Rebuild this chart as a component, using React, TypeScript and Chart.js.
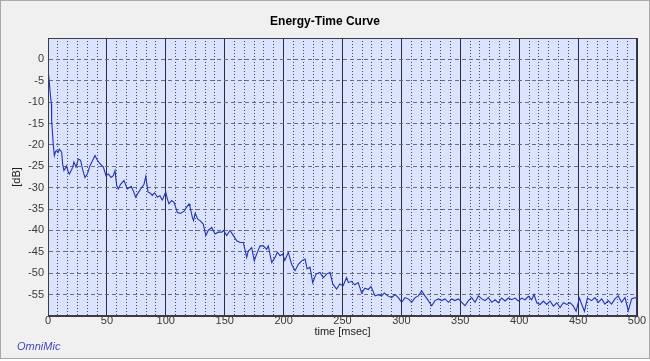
import React, { useEffect, useRef } from "react";
import { Chart, registerables } from "chart.js";

Chart.register(...registerables);

const TITLE = "Energy-Time Curve";
const X_TITLE = "time [msec]";
const Y_TITLE = "[dB]";
const BRAND = "OmniMic";

const X_MIN = 0;
const X_MAX = 500;
const X_MAJOR_STEP = 50;
const X_MINOR_DIVISIONS = 60;
const Y_MIN = -60;
const Y_MAX = 5;
const Y_STEP = 5;
const Y_LABEL_MIN = -55;
const Y_LABEL_MAX = 0;

const TIME_MS = [
  0, 0.3, 1, 2.2, 2.9, 3.1, 4.5, 5.4, 6.5, 7.4, 8.5, 9.6, 11.6, 12.4, 13.5, 14.4, 15.8, 17, 18.1, 20,
  21, 22, 23.8, 25.7, 27.7, 29.4, 31.4, 33.4, 35.7, 38, 39.9, 41.9, 44.1, 47, 49.2, 51.2, 53.5, 55.4, 56.9, 58.3,
  59.7, 61.6, 64.5, 67.3, 70.7, 72.5, 74.4, 76.5, 78.7, 81.5, 83, 84.9, 86.8, 88.6, 90.5, 92.8, 95, 97, 99.9, 101.5,
  102.7, 105, 107, 109.8, 112.6, 115.5, 117.5, 119.7, 120.5, 122.5, 123.5, 125, 127, 129, 131.8, 134, 136, 139, 141.8, 144.6,
  147.5, 149, 151.7, 154.5, 157.4, 160.2, 163, 165.8, 168.7, 170, 172.9, 175.1, 177, 180, 182.8, 185.6, 187, 189.9, 192.7, 194.7,
  197, 199.2, 201, 204, 206.8, 209.7, 212.5, 215.3, 218.2, 220, 222.4, 224.7, 227.5, 230.9, 233.7, 236.5, 239.4, 241.7, 245, 247.7,
  250.5, 253.5, 255, 257.6, 260.4, 263.3, 266.3, 269, 271.9, 274.2, 277.6, 280.4, 283.2, 285.5, 288.4, 291.8, 294.6, 297.4, 300.2, 303,
  305.9, 308.7, 311.6, 314.4, 317.2, 320, 322.9, 325.7, 328.5, 331.4, 334.2, 337, 339.9, 342.7, 345.5, 348.4, 351.2, 354, 356.9, 359.7,
  362.5, 365.4, 368.2, 371, 373.8, 376.7, 379.5, 382.3, 385.1, 388, 390.8, 393.6, 396.5, 399.3, 402.1, 405, 407.8, 410.6, 412.6, 414.9,
  417.7, 420.5, 423.4, 426.2, 429, 431.9, 434.7, 437.5, 440.4, 443.2, 446, 448.3, 451.1, 453.1, 455.4, 457.9, 461.5, 464.3, 467.1, 470,
  472.8, 475.6, 478.4, 481.3, 484.1, 486.9, 489.8, 492.6, 495.4, 498.3, 500,
];

const LEVEL_DB = [
  -1, -3, -5, -8.8, -10.5, -14.3, -20, -22.5, -21.5, -21.3, -21.8, -21, -21.7, -24.4, -26, -25.6, -24.9, -26.2, -26.8, -25.8,
  -25.2, -24, -25.2, -23.3, -23.6, -25.8, -27.6, -26.8, -24.8, -23.6, -22.5, -23.6, -24.4, -25.2, -27.2, -26.8, -27.6, -27.2, -26, -29.5,
  -30.3, -29.2, -28.3, -30.3, -29.7, -30.8, -32.2, -31.2, -30.3, -29.2, -27.4, -31, -31.3, -31.8, -31.2, -32.2, -31.9, -32.9, -31, -32.8,
  -33.8, -33, -33.4, -35.8, -36, -35.5, -34.6, -33.8, -34.4, -36.9, -37.7, -36, -37.3, -37.7, -38.5, -41.2, -40, -39.3, -40.8, -40.4,
  -40.4, -40, -41.2, -40, -41.2, -42.4, -42.8, -42.8, -46.3, -44.8, -44, -47.1, -45.6, -43.6, -43.6, -44.4, -43.6, -47.5, -46.3, -45.1,
  -45.9, -45.5, -47, -45.1, -47.9, -49.4, -47.9, -47.1, -46.7, -49, -48.6, -52.2, -50.2, -49.8, -51, -50.2, -49.8, -52.5, -53.7, -52.5,
  -52.9, -51, -52.2, -51.9, -52.7, -52.2, -54.6, -53.5, -53.8, -53.1, -55.3, -55, -55.3, -54.6, -55.3, -55.7, -55, -55.7, -56.8, -55.7,
  -56, -56.8, -55.7, -55.3, -54.1, -55.3, -56.4, -57.6, -56.4, -56, -56.4, -56, -56.8, -56, -56.4, -56, -56.8, -57.6, -56.4, -55.7,
  -56.8, -55.3, -56, -56.4, -55.7, -56.8, -56.2, -56.9, -55.8, -56.5, -55.8, -56.2, -55.8, -56.5, -55.8, -56.2, -55.4, -56.2, -55, -56.9,
  -57.3, -56.5, -57.3, -56.5, -57.7, -56.9, -58, -56.9, -57.3, -56.9, -57.7, -58.9, -55.8, -57.3, -58.9, -55.8, -56.4, -55.7, -56.8, -56,
  -57.2, -56.4, -57.2, -56, -55.3, -56.8, -55.7, -58.8, -56, -55.7, -56,
];

const FONT = "'Liberation Sans', Arial, sans-serif";

const plotFrame = {
  id: "plotFrame",
  beforeDraw(chart: any) {
    const { ctx, chartArea } = chart;
    const { left, top, right, bottom } = chartArea;
    ctx.save();
    ctx.fillStyle = "#dce4fd";
    ctx.fillRect(left, top, right - left, bottom - top);
    ctx.restore();
  },
  afterDraw(chart: any) {
    const { ctx, chartArea } = chart;
    const { left, top, right, bottom } = chartArea;
    ctx.save();
    ctx.strokeStyle = "#3c3c48";
    ctx.lineWidth = 1;
    const l = Math.round(left) + 0.5;
    const t = Math.round(top) + 0.5;
    const r = Math.round(right) - 0.5;
    const b = Math.round(bottom) - 0.5;
    ctx.strokeRect(l, t, r - l, b - t);
    ctx.restore();
  },
};

export default function App() {
  const canvasRef = useRef<HTMLCanvasElement | null>(null);

  useEffect(() => {
    if (!canvasRef.current) return;
    const points = TIME_MS.map((t, i) => ({ x: t, y: LEVEL_DB[i] }));
    const chart = new Chart(canvasRef.current, {
      type: "line",
      data: {
        datasets: [
          {
            data: points,
            xAxisID: "x",
            yAxisID: "y",
            borderColor: "#2233b4",
            borderWidth: 1.1,
            pointRadius: 0,
            tension: 0,
            fill: false,
          },
        ],
      },
      plugins: [plotFrame],
      options: {
        animation: false,
        responsive: false,
        devicePixelRatio: 1,
        layout: { padding: { left: 0, right: 0, top: 0, bottom: 0 } },
        plugins: {
          legend: { display: false },
          tooltip: { enabled: false },
          title: {
            display: true,
            text: TITLE,
            color: "#000000",
            font: { family: FONT, size: 12, weight: "bold" },
            padding: { top: 14, bottom: 9.6 },
          },
        },
        scales: {
          xMinor: {
            type: "linear",
            position: "bottom",
            min: X_MIN,
            max: X_MAX,
            afterBuildTicks: (scale: any) => {
              const ticks = [];
              for (let i = 0; i <= X_MINOR_DIVISIONS; i++) {
                ticks.push({ value: X_MIN + ((X_MAX - X_MIN) * i) / X_MINOR_DIVISIONS });
              }
              scale.ticks = ticks;
            },
            afterFit: (scale: any) => {
              scale.height = 0;
            },
            ticks: { display: false },
            grid: { color: "rgba(40,40,90,0.85)", lineWidth: 1, drawTicks: false, z: -1 },
            border: { display: false, dash: [1, 2] },
          },
          x: {
            type: "linear",
            position: "bottom",
            min: X_MIN,
            max: X_MAX,
            ticks: {
              stepSize: X_MAJOR_STEP,
              color: "#3a3a3a",
              font: { family: FONT, size: 11 },
              padding: -2,
              maxRotation: 0,
            },
            afterFit: (scale: any) => {
              scale.height = 45;
            },
            grid: { color: "#2c2c3c", lineWidth: 1, drawTicks: false },
            border: { display: true, color: "#3c3c48" },
            title: {
              display: true,
              text: X_TITLE,
              color: "#222222",
              font: { family: FONT, size: 11 },
              padding: { top: 0, bottom: 22.5 },
            },
          },
          y: {
            type: "linear",
            position: "left",
            min: Y_MIN,
            max: Y_MAX,
            ticks: {
              stepSize: Y_STEP,
              color: "#3a3a3a",
              font: { family: FONT, size: 11 },
              padding: 4,
              callback: (v: any) => (v >= Y_LABEL_MIN && v <= Y_LABEL_MAX ? String(v) : ""),
            },
            afterFit: (scale: any) => {
              scale.width = 48;
            },
            grid: { color: "#6c6c7c", lineWidth: 1, drawTicks: false },
            border: { display: true, color: "#3c3c48", dash: [4, 3] },
            title: {
              display: true,
              text: Y_TITLE,
              color: "#222222",
              font: { family: FONT, size: 11 },
              padding: { top: 10.5, bottom: 0 },
            },
          },
          yRight: {
            type: "linear",
            position: "right",
            display: true,
            ticks: { display: false },
            grid: { display: false },
            border: { display: false },
            afterFit: (scale: any) => {
              scale.width = 13;
            },
          },
        },
      },
    } as any);
    return () => chart.destroy();
  }, []);

  return (
    <div style={{ position: "absolute", left: 0, top: 0, width: 650, height: 361, background: "#ffffff" }}>
      <div
        style={{
          position: "absolute",
          left: 0,
          top: 0,
          width: 650,
          height: 359,
          boxSizing: "border-box",
          border: "1px solid #a8a8a8",
          background: "#f0f0f0",
        }}
      />
      <canvas
        ref={canvasRef}
        width={650}
        height={361}
        style={{ position: "absolute", left: 0, top: 0, width: 650, height: 361 }}
      />
      <span
        style={{
          position: "absolute",
          left: 17,
          top: 340,
          fontFamily: FONT,
          fontStyle: "italic",
          fontSize: 11,
          color: "#4646c4",
        }}
      >
        {BRAND}
      </span>
    </div>
  );
}
